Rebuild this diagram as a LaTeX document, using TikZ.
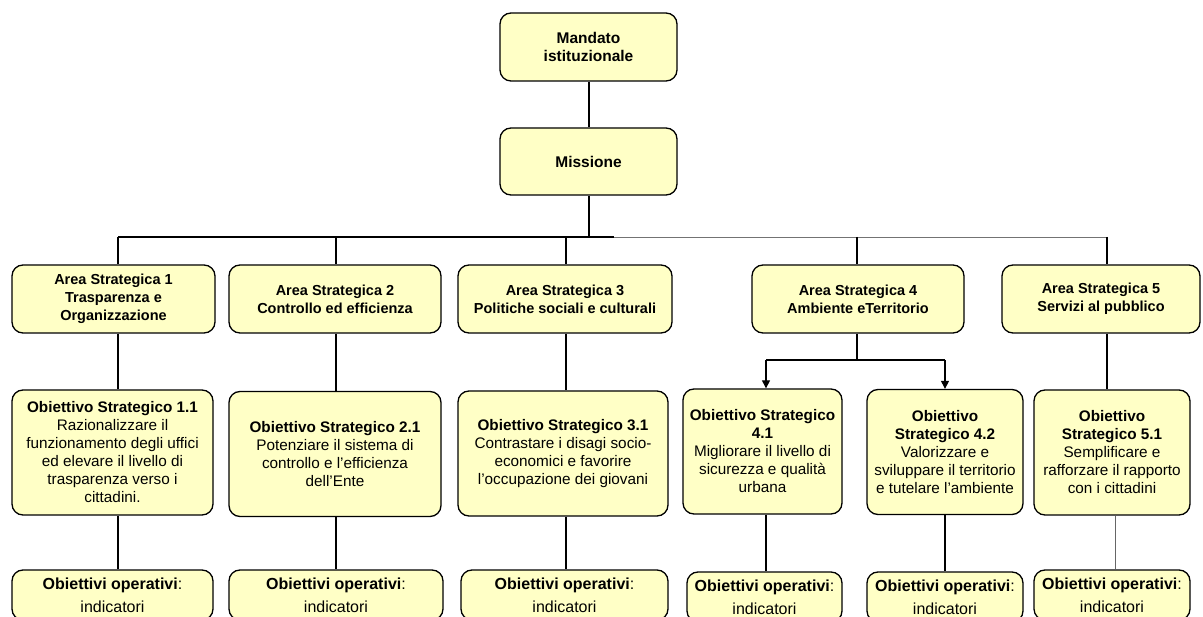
\documentclass[tikz,border=0pt]{standalone}
\usepackage{fontspec}
\setmainfont{Liberation Sans}
\usetikzlibrary{arrows.meta}
\definecolor{boxfill}{RGB}{255,255,198}
\tikzset{
  box/.style={draw=black, line width=1.3pt, fill=boxfill, rounded corners=11pt, inner sep=0pt, align=center},
  areabox/.style={box, minimum height=68pt, font=\fontsize{14.5}{18}\selectfont\bfseries},
  objbox/.style={box, minimum height=125pt, font=\fontsize{15.3}{18}\selectfont},
  opbox/.style={box, minimum height=50pt, font=\fontsize{16}{23}\selectfont},
  topbox/.style={box, minimum width=177pt, font=\fontsize{15.5}{18.5}\selectfont\bfseries},
  conn/.style={draw=black, line width=1.1pt},
  arr/.style={conn, -{Triangle[width=8pt,length=8pt]}}
}
\begin{document}
\begin{tikzpicture}[x=1pt,y=-1pt]
\useasboundingbox (0,0) rectangle (1203,617);
\clip (0,0) rectangle (1203,617);

\node[topbox, minimum height=68pt] (mand) at (588.5,47) {Mandato\\istituzionale};
\node[topbox, minimum height=67pt] (miss) at (588.5,161.5) {Missione};

\node[areabox, minimum width=203pt] (a1) at (113.5,299) {Area Strategica 1\\Trasparenza e\\Organizzazione};
\node[areabox, minimum width=212pt] (a2) at (335,299) {Area Strategica 2\\Controllo ed efficienza};
\node[areabox, minimum width=214pt] (a3) at (565,299) {Area Strategica 3\\Politiche sociali e culturali};
\node[areabox, minimum width=212pt] (a4) at (858,299) {Area Strategica 4\\Ambiente eTerritorio};
\node[areabox, minimum width=198pt] (a5) at (1101,299) {Area Strategica 5\\Servizi al pubblico};

\node[objbox, minimum width=201pt] (o1) at (112.5,452.5) {\textbf{Obiettivo Strategico 1.1}\\Razionalizzare il\\funzionamento degli uffici\\ed elevare il livello di\\trasparenza verso i\\cittadini.};
\node[objbox, minimum width=212pt] (o2) at (335,454) {\textbf{Obiettivo Strategico 2.1}\\Potenziare il sistema di\\controllo e l’efficienza\\dell’Ente};
\node[objbox, minimum width=210pt] (o3) at (563,453.5) {\textbf{Obiettivo Strategico 3.1}\\Contrastare i disagi socio-\\economici e favorire\\l’occupazione dei giovani};
\node[objbox, minimum width=159pt] (o41) at (762.5,451.5) {\textbf{Obiettivo Strategico}\\\textbf{4.1}\\Migliorare il livello di\\sicurezza e qualità\\urbana};
\node[objbox, minimum width=156pt] (o42) at (945,452) {\textbf{Obiettivo}\\\textbf{Strategico 4.2}\\Valorizzare e\\sviluppare il territorio\\e tutelare l’ambiente};
\node[objbox, minimum width=156pt] (o5) at (1112,452.5) {\textbf{Obiettivo}\\\textbf{Strategico 5.1}\\Semplificare e\\rafforzare il rapporto\\con i cittadini};

\node[opbox, minimum width=201pt] (p1) at (112.5,595) {\textbf{Obiettivi operativi}:\\indicatori};
\node[opbox, minimum width=214pt] (p2) at (336,595) {\textbf{Obiettivi operativi}:\\indicatori};
\node[opbox, minimum width=207pt] (p3) at (564.5,595) {\textbf{Obiettivi operativi}:\\indicatori};
\node[opbox, minimum width=155pt] (p41) at (764.5,597) {\textbf{Obiettivi operativi}:\\indicatori};
\node[opbox, minimum width=156pt] (p42) at (945,597) {\textbf{Obiettivi operativi}:\\indicatori};
\node[opbox, minimum width=156pt] (p5) at (1112,595) {\textbf{Obiettivi operativi}:\\indicatori};

% bus coordinates
\coordinate (bm) at (589,237);
\coordinate (b1) at (118,237);
\coordinate (b2) at (336,237);
\coordinate (b3) at (566,237);
\coordinate (b4) at (857,237);
\coordinate (b5) at (1107,237);
\coordinate (bg) at (614,237);
\coordinate (s4) at (857,360);
\coordinate (x41) at (766,360);
\coordinate (x42) at (945,360);
\coordinate (c5) at (1115,0);

\draw[conn] (mand.south -| bm) -- (miss.north -| bm);
\draw[conn] (miss.south -| bm) -- (bm);
\draw[conn] (b1) -- (bg);
\draw[conn, draw=black!55, line width=0.9pt] (bg) -- (b5);

\draw[conn] (b1) -- (a1.north -| b1);
\draw[conn] (b2) -- (a2.north -| b2);
\draw[conn] (b3) -- (a3.north -| b3);
\draw[conn] (b4) -- (a4.north -| b4);
\draw[conn] (b5) -- (a5.north -| b5);

\draw[conn] (a1.south -| b1) -- (o1.north -| b1);
\draw[conn] (o1.south -| b1) -- (p1.north -| b1);
\draw[conn] (a2.south -| b2) -- (o2.north -| b2);
\draw[conn] (o2.south -| b2) -- (p2.north -| b2);
\draw[conn] (a3.south -| b3) -- (o3.north -| b3);
\draw[conn] (o3.south -| b3) -- (p3.north -| b3);

\draw[conn] (a4.south -| s4) -- (s4);
\draw[conn] (x41) -- (x42);
\draw[arr] (x41) -- (o41.north -| x41);
\draw[arr] (x42) -- (o42.north -| x42);
\draw[conn] (o41.south -| x41) -- (p41.north -| x41);
\draw[conn] (o42.south -| x42) -- (p42.north -| x42);

\draw[conn] (a5.south -| b5) -- (o5.north -| b5);
\draw[conn, draw=black!60, line width=0.8pt] (o5.south -| c5) -- (p5.north -| c5);
\end{tikzpicture}
\end{document}
